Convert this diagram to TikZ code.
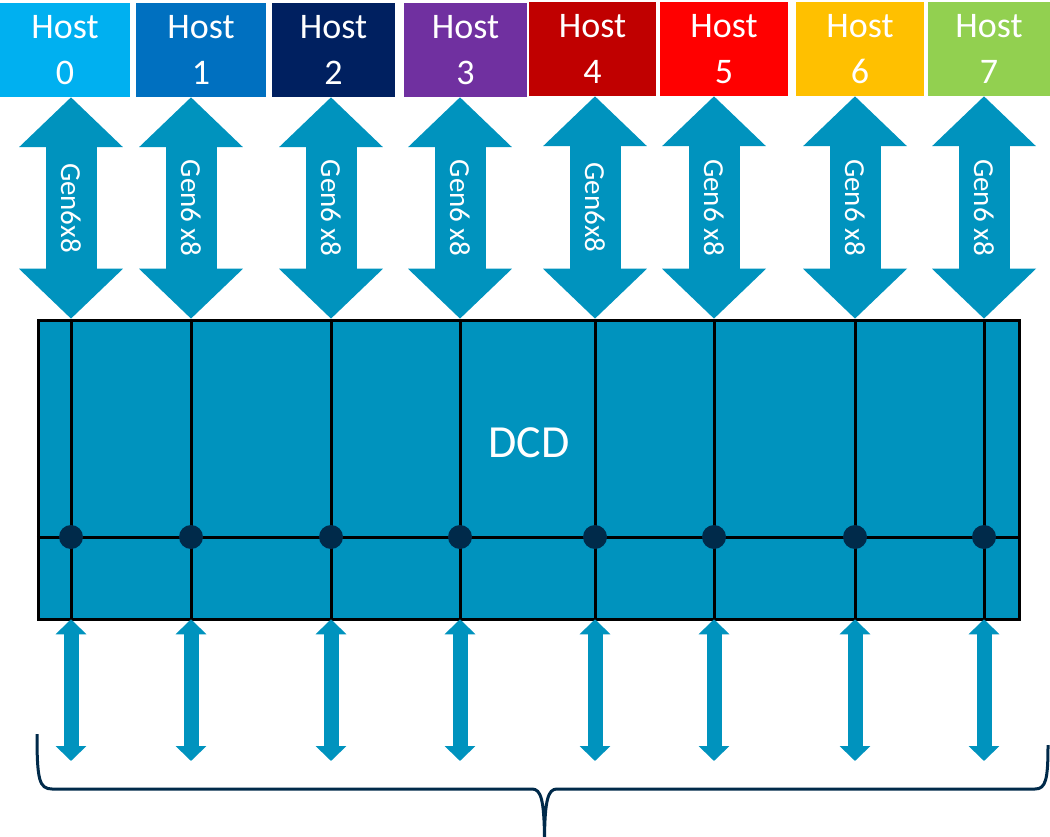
\documentclass[tikz,border=0pt]{standalone}
\usepackage{fontspec}
\setmainfont{Carlito}
\usetikzlibrary{arrows.meta}
\definecolor{host0}{HTML}{00B0F0}
\definecolor{host1}{HTML}{0070C0}
\definecolor{host2}{HTML}{002060}
\definecolor{host3}{HTML}{7030A0}
\definecolor{host4}{HTML}{C00000}
\definecolor{host5}{HTML}{FF0000}
\definecolor{host6}{HTML}{FFC000}
\definecolor{host7}{HTML}{92D050}
\definecolor{dcdblue}{HTML}{0093BE}
\definecolor{dotnavy}{HTML}{002A4A}
\tikzset{
  hostbox/.style={minimum height=94pt, inner sep=0pt, text=white, align=center,
    font=\fontsize{36}{46}\selectfont},
  linkarrow/.style={dcdblue, line width=51pt,
    {Triangle[length=50pt,width=101pt]}-{Triangle[length=50pt,width=101pt]}},
  lanearrow/.style={dcdblue, line width=15pt,
    {Triangle[length=15pt,width=30pt]}-{Triangle[length=15pt,width=30pt]}},
  gridline/.style={black, line width=3pt},
}
\begin{document}
\begin{tikzpicture}[x=1pt,y=-1pt]
\useasboundingbox (0,0) rectangle (1050,837);
% hosts
\foreach \n/\cx/\cy/\w in {0/65/50/130, 1/201/50/130, 2/333.5/50/123, 3/465.5/50/123,
    4/592.5/49/127, 5/724/49/128, 6/860/49/128, 7/989/49/122}
  \node[hostbox, fill=host\n, minimum width=\w pt] (h\n) at (\cx,\cy) {Host\\\n};
% switch
\node[draw=black, line width=3.5pt, fill=dcdblue, minimum width=981pt,
  minimum height=299pt, inner sep=0pt] (dcd) at (529,470) {};
\node[text=white, font=\fontsize{46}{54}\selectfont] (dcdtext) at (529,443) {DCD};
% ports
\foreach \n/\x/\lbl in {0/71/Gen6x8, 1/191/Gen6 x8, 2/331/Gen6 x8, 3/460/Gen6 x8,
    4/595/Gen6x8, 5/714/Gen6 x8, 6/855/Gen6 x8, 7/984/Gen6 x8} {
  \coordinate (c\n) at (\x,537);
  \coordinate (e\n) at (\x,761);
  \draw[linkarrow] (h\n.south -| c\n) -- (dcd.north -| c\n)
    node[midway, rotate=-90, text=white, font=\fontsize{29}{34}\selectfont] (l\n) {\lbl};
  \draw[gridline] (dcd.north -| c\n) -- (dcd.south -| c\n);
  \draw[lanearrow] ([yshift=2pt]dcd.south -| c\n) -- (e\n);
}
\draw[gridline] (dcd.west |- c0) -- (dcd.east |- c0);
\foreach \n in {0,...,7}
  \fill[dotnavy] (c\n) circle[radius=12pt];
% brace
\draw[dotnavy, line width=3pt]
  (37,734) .. controls (37,779) and (39,789) .. (52,789) -- (532,789)
  .. controls (541,789) and (544,800) .. (544.5,837)
  .. controls (545,800) and (548,789) .. (557,789) -- (1035,789)
  .. controls (1046,789) and (1048,779) .. (1048,745);
\end{tikzpicture}
\end{document}
